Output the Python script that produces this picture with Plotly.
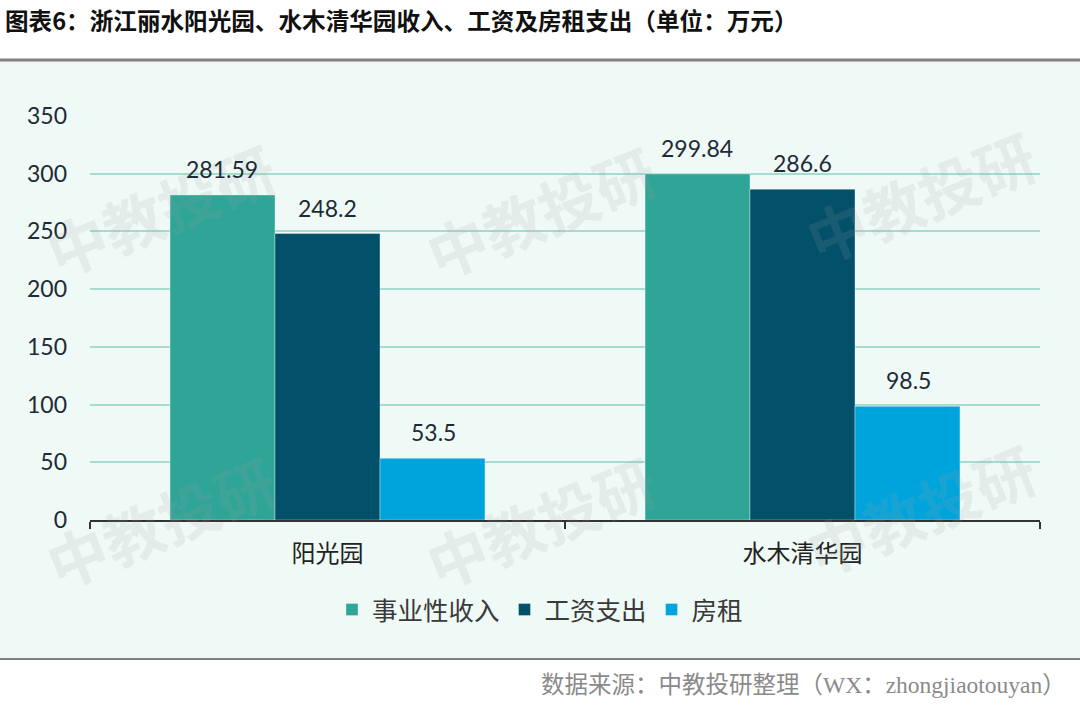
import plotly.graph_objects as go

categories = ["阳光园", "水木清华园"]
series_names = ["事业性收入", "工资支出", "房租"]
income = [281.59, 299.84]
wages = [248.2, 286.6]
rent = [53.5, 98.5]
colors = ["#2EA597", "#02506A", "#00A4DC"]
y_ticks = [0, 50, 100, 150, 200, 250, 300, 350]

W, H = 1080, 709
L, R, T, B = 90, 40, 116, 189
ph = H - T - B
pw = W - L - R

def py(p):
    return (H - B - p) / ph

def px(p):
    return (p - L) / pw

fig = go.Figure()
for name, vals, c in zip(series_names, [income, wages, rent], colors):
    fig.add_trace(go.Bar(
        x=categories, y=vals, name=name,
        marker=dict(color=c, line=dict(width=1, color="rgba(255,255,255,0.35)")),
    ))

shapes = [
    dict(type="rect", xref="paper", yref="paper", x0=px(0), x1=px(W), y0=py(659), y1=py(61),
         fillcolor="#EFF9F5", line=dict(width=0), layer="below"),
    dict(type="line", xref="paper", yref="paper", x0=px(0), x1=px(W), y0=py(60), y1=py(60),
         line=dict(color="#808080", width=3)),
    dict(type="line", xref="paper", yref="paper", x0=px(0), x1=px(W), y0=py(659), y1=py(659),
         line=dict(color="#808080", width=2)),
]

annotations = [
    dict(text="<b>图表6：浙江丽水阳光园、水木清华园收入、工资及房租支出（单位：万元）</b>",
         xref="paper", yref="paper", x=px(3), y=py(20), xanchor="left", yanchor="middle",
         showarrow=False, font=dict(size=23.6, color="#111111", family="Noto Sans CJK SC")),
    dict(text="数据来源：中教投研整理（WX：zhongjiaotouyan）",
         xref="paper", yref="paper", x=px(1068), y=py(685), xanchor="right", yanchor="middle",
         showarrow=False, font=dict(size=23.5, color="#8a8a8a", family="Liberation Serif, Noto Sans CJK SC")),
]
for (cx, cy) in [(160, 208), (540, 210), (920, 195), (160, 520), (540, 520), (920, 508)]:
    annotations.append(dict(text="<b>中教投研</b>", xref="paper", yref="paper", x=px(cx), y=py(cy),
                            xanchor="center", yanchor="middle",
                            showarrow=False, textangle=-22,
                            font=dict(size=60, color="rgba(160,160,160,0.15)", family="Noto Sans CJK SC")))

# data labels above bars
offsets = [-105.5, 0, 105.5]
for vals, off in zip([income, wages, rent], offsets):
    for cat, v in zip(categories, vals):
        annotations.append(dict(text=f"{v:g}", x=cat, y=v, xref="x", yref="y", xshift=off,
                                yshift=10, xanchor="center", yanchor="bottom", showarrow=False,
                                font=dict(size=23, color="#1c2b36", family="Lato, Noto Sans CJK SC")))

fig.update_layout(
    width=W, height=H,
    margin=dict(l=L, r=R, t=T, b=B),
    paper_bgcolor="white", plot_bgcolor="rgba(0,0,0,0)",
    barmode="group", bargap=0.337, bargroupgap=0,
    shapes=shapes, annotations=annotations,
    legend=dict(orientation="h", x=px(540), xanchor="center", y=py(610), yanchor="middle",
                font=dict(size=25.5, color="#3a3a3a", family="Noto Sans CJK SC"),
                bgcolor="rgba(0,0,0,0)", itemwidth=30, traceorder="normal"),
    showlegend=True,
)
fig.update_yaxes(range=[0, 350], tickvals=y_ticks, showgrid=True, gridcolor="#A6DCD0", gridwidth=2,
                 zeroline=False, showline=False, ticks="", ticklabelstandoff=22,
                 tickfont=dict(size=23, color="#1c2b36", family="Lato"))
fig.update_xaxes(showline=True, linecolor="#333333", linewidth=1.5, ticks="outside",
                 tickson="boundaries", ticklen=7, tickcolor="#333333", tickwidth=1.5,
                 ticklabelstandoff=11,
                 tickfont=dict(size=24, color="#222222", family="Noto Sans CJK SC"))

fig.write_html("out.html")
